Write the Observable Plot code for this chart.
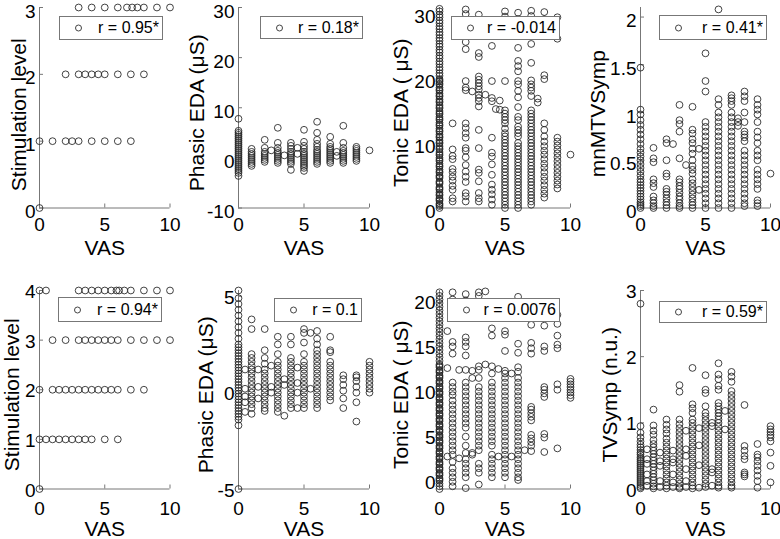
<!DOCTYPE html>
<html><head><meta charset="utf-8">
<script src="https://cdn.jsdelivr.net/npm/d3@7"></script>
<script src="https://cdn.jsdelivr.net/npm/@observablehq/plot@0.6"></script>
<style>
body{margin:0;background:#fff;}
#chart{position:relative;width:780px;height:539px;overflow:hidden;background:#fff;font-family:"Liberation Sans",Arial,sans-serif;}
.panel{position:absolute;}
.panel svg{max-width:none !important;}
.legend{position:absolute;background:#fff;border:1px solid #777;box-sizing:border-box;font-size:16px;color:#000;}
.legend .mk{position:absolute;width:7px;height:7px;border:1px solid #444;border-radius:50%;box-sizing:border-box;top:50%;transform:translateY(-50%);}
.legend .tx{position:absolute;right:3px;top:50%;transform:translateY(-50%);white-space:nowrap;line-height:1;}
</style></head><body><div id="chart"></div>
<script>
// ---------------- DATA ----------------
const vasTicks = [0, 5, 10];

// Panel 1: Stimulation level (top row), VAS values per level
const stimTopLevels = [0, 1, 2, 3];
const stimTopVAS = [
  [0],
  [0, 1, 2, 2.5, 3, 4, 5, 6, 7],
  [2, 3, 3.5, 4, 4.5, 5, 6, 7, 8],
  [3, 4, 5, 6, 6.7, 7.1, 7.5, 8, 9, 10]
];

// Panel 2: Phasic EDA (top row)
const phasicTopVAS = [0, 1, 2, 2.5, 3, 3.5, 4, 4.5, 5, 6, 7, 7.5, 8, 9, 10];
const phasicTopVals = [
  [7.8, 5.4, 5.0, 4.6, 4.2, 3.8, 3.4, 3.0, 2.6, 2.2, 1.8, 1.4, 1.0, 0.6, 0.2, -0.2, -0.6, -1.0, -1.4, -1.8, -2.2, -2.6, -3.0, -3.6],
  [1.8, 1.2, 0.8, 0.4, 0, -0.4, -0.8, -1.2, -1.6],
  [3.6, 2.0, 1.2, 0.8, 0.4, 0, -0.4, -0.8],
  [1.5],
  [6.0, 3.0, 2.0, 1.4, 1.0, 0.6, 0.2, -0.2, -0.6, -1.0],
  [0.5],
  [3.0, 2.4, 1.8, 1.2, 0.8, 0.4, 0, -0.4, -0.8, -1.2, -2.4],
  [2.0, 0.8],
  [5.6, 3.2, 2.4, 1.8, 1.2, 0.8, 0.4, 0, -0.4, -0.8, -1.2, -1.6, -2.0, -2.6],
  [7.2, 5.0, 3.6, 2.8, 2.2, 1.6, 1.2, 0.8, 0.4, 0, -0.4, -0.8, -1.2],
  [4.2, 2.8, 2.2, 1.8, 1.4, 1.0, 0.6, 0.2, -0.2, -0.6, -1.0],
  [1.2, 0.4],
  [6.4, 3.0, 2.0, 1.4, 1.0, 0.6, 0.2, -0.2, -0.6, -1.0],
  [2.2, 1.8, 1.4, 1.0, 0.6, 0.2, -0.2, -0.6],
  [1.5]
];

// Panel 3: Tonic EDA (top row)
const tonicTopVAS = [0, 0, 1, 2, 2.5, 3, 3.5, 4, 4.3, 4.6, 5, 6, 7, 7.5, 8, 9, 10];
const tonicTopVals = [
  [0, 0.3, 0.7, 1.1, 1.5, 1.9, 2.4, 2.8, 3.2, 3.7, 4.1, 4.6, 5.0, 5.4, 5.9, 6.3, 6.8, 7.2, 7.7, 8.1, 8.6, 9.0, 9.5, 9.9, 10.4, 10.8, 11.3, 11.7, 12.2, 12.6, 13.1, 13.5, 14.0, 14.4, 14.9, 15.3, 15.8, 16.2, 16.7, 17.1, 17.6, 18.0, 18.5, 18.9, 19.4, 19.8, 20.3, 20.7, 21.2, 21.6, 22.1, 22.5, 23.0, 23.4, 23.9, 24.3, 24.8, 25.2, 25.7, 26.1, 26.6, 27.0, 27.5, 27.9, 28.4, 28.8, 29.3, 29.7, 30.2, 30.6],
  [0.5, 1.3, 2.1, 3.0, 3.9, 4.8, 5.6, 6.5, 7.4, 8.3, 9.2, 10.1, 11.0, 11.9, 12.8, 13.7, 14.6, 15.5, 16.4, 17.3, 18.2, 19.1, 19.6],
  [13, 9, 8, 7.5, 6, 5.5, 4.8, 4.2, 3.4, 2.8, 1.5, 1.0],
  [30.5, 29.8, 27, 25.5, 24.4, 19.5, 18.5, 18.1, 13, 12.3, 11.5, 10.8, 9.2, 8.8, 7.8, 6.6, 5.6, 4.8, 4.0, 2.3, 1.8, 1.0],
  [17.9],
  [29.7, 23.8, 23.2, 20.2, 19.7, 19.2, 18.7, 18.2, 17.4, 16.9, 16.4, 15.6, 12, 9.2, 5.9, 5.4, 4.1, 2.3, 1.5, 1.0],
  [17.4],
  [24.9, 19.5, 16.9, 16.4, 10.8, 8.5, 7.9, 6.7, 5.1, 3.6, 2.8, 2.1, 1.3, 0.5],
  [15.2],
  [16.5, 15.1],
  [30.2, 29.4, 19.5, 15, 14.5, 14, 13.5, 13, 12.2, 11.5, 11, 10.5, 10, 9.5, 9, 8.5, 8, 7.5, 7, 6.5, 6, 5.5, 5, 4.5, 4, 3.5, 3, 2.5, 2, 1.5, 1, 0.5, 0],
  [30, 29, 24.6, 22.6, 21.8, 21, 19.5, 19, 18, 17, 15.5, 14, 13.5, 12.5, 12, 11.5, 11, 10, 9.5, 9, 8.5, 8, 7.5, 7, 6.5, 6, 5.5, 5, 4.5, 4, 3.5, 3, 2.5, 2, 1.5, 1, 0.5, 0],
  [30.3, 29.5, 26.8, 25.2, 22.3, 19.6, 19, 18.5, 18, 17.2, 15, 14.5, 14, 13.5, 13, 12.5, 12, 11.5, 11, 10.5, 10, 9.5, 9, 8.5, 8, 7.5, 7, 6.5, 6, 5.5, 5, 4.5, 4, 3.5, 3, 2.5, 2, 1.5, 1, 0.5],
  [16.8, 16.2],
  [30.1, 29, 20.4, 19.8, 13, 12, 11, 10.2, 9.5, 8.8, 8.2, 7.5, 6.8, 6.2, 5.5, 4.8, 4.2, 3.5, 2.8, 2.2, 1.6],
  [29.3, 26, 10.8, 10.2, 9.6, 9, 8.4, 7.8, 7.2, 6.6, 6, 5.4, 4.8, 4.2, 3.6, 3.0],
  [8.2]
];

// Panel 4: mnMTVSymp (top row)
const mnmtvVAS = [0, 1, 2, 2.5, 3, 3.5, 4, 4.5, 5, 6, 7, 7.5, 8, 9, 10];
const mnmtvVals = [
  [1.47, 1.03, 0.98, 0.92, 0.87, 0.82, 0.77, 0.72, 0.67, 0.62, 0.58, 0.54, 0.5, 0.46, 0.42, 0.38, 0.34, 0.3, 0.27, 0.24, 0.21, 0.18, 0.15, 0.12, 0.09, 0.06, 0.04, 0.02, 0],
  [0.63, 0.52, 0.48, 0.3, 0.26, 0.22, 0.12, 0.08, 0.05, 0.02, 0],
  [0.72, 0.68, 0.5, 0.36, 0.33, 0.2, 0.17, 0.14, 0.1, 0.06, 0.03, 0],
  [0.67],
  [1.08, 0.92, 0.88, 0.8, 0.52, 0.3, 0.27, 0.23, 0.2, 0.16, 0.12, 0.09, 0.05, 0.02, 0],
  [0.45],
  [1.06, 0.82, 0.78, 0.72, 0.68, 0.62, 0.57, 0.5, 0.44, 0.4, 0.36, 0.3, 0.26, 0.22, 0.18, 0.14, 0.1, 0.06, 0.03, 0],
  [0.62, 0.19],
  [1.62, 1.33, 1.22, 0.9, 0.85, 0.8, 0.75, 0.7, 0.65, 0.6, 0.55, 0.5, 0.45, 0.4, 0.35, 0.3, 0.25, 0.2, 0.15, 0.1, 0.05, 0],
  [2.08, 1.14, 1.08, 1.0, 0.95, 0.9, 0.85, 0.8, 0.75, 0.7, 0.65, 0.6, 0.55, 0.5, 0.45, 0.4, 0.35, 0.3, 0.25, 0.2, 0.15, 0.1, 0.05, 0],
  [1.18, 1.15, 1.12, 1.08, 1.0, 0.95, 0.9, 0.85, 0.8, 0.75, 0.7, 0.65, 0.6, 0.55, 0.5, 0.45, 0.4, 0.35, 0.3, 0.25, 0.2, 0.15, 0.1, 0.05, 0],
  [0.94, 0.9, 0.86],
  [1.22, 1.17, 1.12, 1.0, 0.9, 0.8, 0.77, 0.74, 0.7, 0.6, 0.55, 0.5, 0.45, 0.4, 0.35, 0.3, 0.25, 0.2, 0.15, 0.1, 0.05, 0.02],
  [1.14, 1.08, 1.03, 0.98, 0.9, 0.8, 0.74, 0.68, 0.6, 0.55, 0.5, 0.4, 0.35, 0.3, 0.25, 0.2, 0.08, 0.05, 0.02],
  [0.36]
];

// Panel 5: Stimulation level (bottom row)
const stimBotLevels = [0, 1, 2, 3, 4];
const stimBotVAS = [
  [0],
  [0, 0.5, 1, 1.5, 2, 2.5, 3, 3.5, 4, 5, 6],
  [0, 1, 1.5, 2, 2.5, 3, 3.5, 4, 4.5, 5, 5.5, 6, 7, 8],
  [1, 2, 3, 3.5, 4, 4.5, 5, 5.5, 6, 7, 8, 9, 10],
  [0, 0.5, 3, 3.5, 4, 4.5, 5, 5.5, 5.9, 6.1, 6.5, 7, 8, 9, 10]
];

// Panel 6: Phasic EDA (bottom row)
const phasicBotVAS = [0, 0, 0.5, 1, 1.5, 2, 2.5, 3, 3.5, 4, 4.5, 5, 5.5, 6, 7, 8, 9, 10];
const phasicBotVals = [
  [5.3, 4.9, 4.6, 4.3, 4.0, 3.7, 3.4, 3.1, 2.8, 2.5, 2.2, 1.9, 1.6, 1.3, 1.0, 0.7, 0.4, 0.1, -0.2, -0.5, -0.8, -1.1, -1.4, -1.7, -5.0],
  [2.35, 2.05, 1.75, 1.45, 1.15, 0.85, 0.55, 0.25, -0.05, -0.35, -0.65, -0.95, -1.25],
  [1.2, 0.2, -0.2, -0.5, -1.0],
  [3.8, 3.3, 2.0, 1.8, 1.6, 1.4, 1.2, 1.0, 0.8, 0.6, 0.4, 0.2, 0, -0.2, -0.4, -0.6, -0.8, -1.1],
  [1.2, 0.3, -0.3],
  [3.3, 2.2, 1.8, 1.5, 1.2, 1.0, 0.8, 0.6, 0.4, 0.2, 0, -0.2, -0.4, -0.6, -0.8, -0.95],
  [1.4, 0.3, 0],
  [2.9, 2.5, 2.0, 1.6, 1.4, 1.2, 1.0, 0.8, 0.6, 0.4, 0.2, 0, -0.2, -0.4, -0.6, -0.8, -1.0],
  [0.7, 0.4, -1.2],
  [2.9, 2.5, 1.8, 1.6, 1.4, 1.2, 1.0, 0.8, 0.6, 0.4, 0.2, 0, -0.2, -0.4, -0.6, -0.8],
  [1.3, 0.5, 0, -0.8],
  [3.3, 3.1, 2.6, 2.0, 1.6, 1.4, 1.2, 1.0, 0.8, 0.6, 0.4, 0.2, 0, -0.2, -0.4, -0.6, -0.8],
  [3.1, 0.2],
  [3.2, 2.8, 2.5, 2.2, 2.0, 1.8, 1.6, 1.4, 1.2, 1.0, 0.8, 0.6, 0.4, 0.2, 0, -0.2, -0.4, -0.6, -0.8],
  [2.9, 2.2, 2.1, 1.6, 1.4, 1.2, 1.0, 0.8, 0.6, 0.4, 0.2, 0, -0.2, -0.4],
  [0.9, 0.7, 0.4, 0.1, -0.3, -0.8],
  [0.9, 0.8, 0.6, 0.3, 0, -0.5, -1.5],
  [1.6, 1.4, 1.2, 1.0, 0.8, 0.6, 0.4, 0.2, 0]
];

// Panel 7: Tonic EDA (bottom row)
const tonicBotVAS = [0, 0, 0.6, 1, 1.5, 2, 2.5, 3, 3.5, 4, 4.5, 5, 5.5, 6, 6.5, 7, 8, 9, 10];
const tonicBotVals = [
  [-0.8, -0.5, -0.2, 0.1, 0.4, 0.7, 1.0, 1.3, 1.6, 1.9, 2.2, 2.5, 2.8, 3.1, 3.4, 3.7, 4.0, 4.3, 4.6, 4.9, 5.2, 5.5, 5.8, 6.1, 6.4, 6.7, 7.0, 7.3, 7.6, 7.9, 8.2, 8.5, 8.8, 9.1, 9.4, 9.7, 10.0, 10.3, 10.6, 10.9, 11.2, 11.5, 11.8, 12.1, 12.4, 12.7, 13.0, 13.4, 13.8, 14.2, 14.6, 15.0, 15.4, 15.8, 16.2, 16.6, 17.0, 17.4, 17.8, 18.2, 18.6, 19.0, 19.4, 19.8, 20.2, 20.6, 21.0],
  [0.25, 0.85, 1.45, 2.05, 2.65, 3.25, 3.85, 4.45, 5.05, 5.65, 6.25, 6.85, 7.45, 8.05, 8.65, 9.25, 9.85, 10.45, 11.05, 11.65, 12.25, 12.85],
  [16.7, 12.6, 2.8],
  [21, 20.2, 19, 15.5, 15, 14.2, 11, 10.5, 10, 9.6, 9, 8.5, 8, 7.5, 7, 6.5, 6, 5.5, 5, 4.5, 4, 3.5, 3, 2.2, 1.5, 1.0, 0.5, 0, -0.5],
  [12.4, 2.6],
  [20.8, 20.1, 19.4, 16, 15.5, 15, 14, 12.4, 11, 10.5, 10, 9.5, 9, 8.5, 8, 7.5, 7, 6.5, 6, 5, 4, 3.2, 2.5, 2, 1.5, 1, 0.5, -0.7],
  [12.3, 11.5, 3.2, 3],
  [21, 20.6, 19.8, 12.8, 12.4, 11.5, 10.5, 10, 9.5, 9, 8.5, 8, 7.5, 7, 6.5, 6, 5.5, 5, 4.5, 4, 3.5, 2, 1.5, 1.0, -0.3],
  [21.1, 13],
  [17, 16.2, 12.8, 12, 11, 10.5, 10, 9.5, 9, 8.5, 8, 7.5, 7, 6.5, 6, 5.5, 5, 4.5, 4, 3, 2.5, 2, 1.5, 1, 0.5],
  [12.5, 2.8],
  [16.7, 16.3, 14.5, 12.3, 12, 11.5, 11, 10.5, 10, 9.5, 9, 8.5, 8, 7.5, 7, 6.5, 6, 5.5, 5, 4.5, 4, 3.5, 3, 2.5, 2, 1.5, 1.0, 0.5],
  [12.0, 2.8],
  [20.5, 15.3, 14.3, 12.7, 12.2, 11.5, 11, 10.5, 10, 9.5, 9, 8.5, 8, 7.5, 7, 6.5, 6, 5.5, 5, 4.5, 4, 3.5, 3, 2.5, 2, 1.5, 1, 0.5, 0.2],
  [3.5],
  [17.4, 15.4, 14.8, 14.2, 8.3, 8, 7.6, 7.2, 6.8, 5.2, 4.8, 4.4, 4.0, 3.4],
  [17.3, 15, 14.5, 10.5, 10.2, 9.8, 9.4, 5.3, 4.9, 3.3],
  [18.5, 17.5, 16.2, 15.2, 14.8, 10.8, 10.2, 3.7],
  [11.4, 11.1, 10.8, 10.5, 10.2, 9.9, 9.6, 9.3]
];

// Panel 8: TVSymp (bottom row)
const tvsympVAS = [0, 0.5, 1, 1.5, 2, 2.5, 3, 3.5, 4, 4.5, 5, 5.5, 6, 6.5, 7, 8, 9, 10];
const tvsympVals = [
  [2.8, 0.95, 0.85, 0.78, 0.72, 0.67, 0.63, 0.59, 0.55, 0.52, 0.48, 0.45, 0.42, 0.39, 0.36, 0.33, 0.3, 0.27, 0.24, 0.21, 0.18, 0.15, 0.12, 0.09, 0.06, 0.03, 0.01],
  [0.6, 0.45, 0.38, 0.22, 0.12, 0.05],
  [1.2, 0.96, 0.88, 0.82, 0.74, 0.68, 0.63, 0.58, 0.53, 0.48, 0.43, 0.38, 0.33, 0.28, 0.23, 0.18, 0.13, 0.08, 0.04, 0.01],
  [0.55, 0.42, 0.35, 0.12, 0.03],
  [1.05, 0.97, 0.9, 0.84, 0.76, 0.7, 0.64, 0.58, 0.52, 0.46, 0.4, 0.34, 0.28, 0.22, 0.16, 0.1, 0.05, 0.01],
  [0.58, 0.45, 0.4, 0.22, 0.1, 0.03],
  [1.57, 1.47, 1.05, 0.98, 0.92, 0.86, 0.8, 0.74, 0.68, 0.62, 0.56, 0.5, 0.44, 0.38, 0.32, 0.26, 0.2, 0.14, 0.08, 0.03, 0.01],
  [0.88, 0.6, 0.5, 0.3, 0.12, 0.03],
  [1.83, 1.28, 1.22, 1.15, 1.05, 1.0, 0.94, 0.88, 0.82, 0.76, 0.7, 0.64, 0.58, 0.52, 0.46, 0.4, 0.34, 0.28, 0.22, 0.16, 0.1, 0.05, 0.01],
  [0.92, 0.66, 0.36, 0.02],
  [1.72, 1.5, 1.45, 1.25, 1.15, 1.1, 1.04, 0.98, 0.92, 0.86, 0.8, 0.74, 0.68, 0.62, 0.56, 0.5, 0.44, 0.38, 0.32, 0.26, 0.2, 0.14, 0.08, 0.03],
  [1.0, 0.95, 0.3, 0.25, 0.05],
  [1.9, 1.73, 1.66, 1.56, 1.5, 1.3, 1.25, 1.2, 1.15, 1.1, 1.05, 1.0, 0.94, 0.88, 0.82, 0.76, 0.7, 0.64, 0.58, 0.52, 0.46, 0.4, 0.34, 0.28, 0.22, 0.16, 0.1, 0.05, 0.02],
  [1.18, 0.9],
  [1.77, 1.7, 1.62, 1.48, 1.42, 1.36, 1.3, 1.24, 1.18, 1.12, 1.06, 1.0, 0.94, 0.88, 0.82, 0.76, 0.7, 0.64, 0.58, 0.52, 0.46, 0.4, 0.34, 0.28, 0.22, 0.16, 0.1, 0.05, 0.02],
  [1.27, 0.65, 0.58, 0.5, 0.45, 0.25, 0.22, 0.19],
  [0.68, 0.52, 0.48, 0.42, 0.35, 0.28, 0.2, 0.12, 0.02],
  [0.95, 0.9, 0.86, 0.82, 0.78, 0.72, 0.55, 0.35, 0.1]
];

// Correlation labels, axis titles, ticks, limits
const rLabels = ["r = 0.95*", "r = 0.18*", "r = -0.014", "r = 0.41*", "r = 0.94*", "r = 0.1", "r = 0.0076", "r = 0.59*"];
const yLabels = ["Stimulation level", "Phasic EDA (μS)", "Tonic EDA ( μS)", "mnMTVSymp", "Stimulation level", "Phasic EDA (μS)", "Tonic EDA ( μS)", "TVSymp (n.u.)"];
const yTickSets = [[0, 1, 2, 3], [-10, 0, 10, 20, 30], [0, 10, 20, 30], [0, 0.5, 1, 1.5, 2], [0, 1, 2, 3, 4], [-5, 0, 5], [0, 5, 10, 15, 20], [0, 1, 2, 3]];
const yDomains = [[0, 3], [-10, 30], [0, 30.8], [0, 2.1], [0, 4], [-5, 5.3], [-0.8, 21.2], [0, 3]];

// ---------------- BUILD ----------------
const byLevel = (levels, vas) => levels.flatMap((lv, i) => vas[i].map(v => ({x: v, y: lv})));
const byVAS = (vas, vals) => vas.flatMap((v, i) => vals[i].map(y => ({x: v, y})));

const pointSets = [
  byLevel(stimTopLevels, stimTopVAS),
  byVAS(phasicTopVAS, phasicTopVals),
  byVAS(tonicTopVAS, tonicTopVals),
  byVAS(mnmtvVAS, mnmtvVals),
  byLevel(stimBotLevels, stimBotVAS),
  byVAS(phasicBotVAS, phasicBotVals),
  byVAS(tonicBotVAS, tonicBotVals),
  byVAS(tvsympVAS, tvsympVals)
];

// layout (pixels)
const frameX = [[38.5, 169], [238, 369], [439, 570], [640, 770]];
const frameY = [[7, 207.5], [289.5, 488]];
const tickPads = [9.5, 12];
const yTickDy = [4, 1.5];
const labelOffsets = [28.5, 49, 46, 50, 35.5, 40, 46, 38];
const labelShifts = [7, 5, 5, 6, 5, 5, 5, 5];
const legendBoxes = [
  [59, 16, 104, 24], [260, 16, 103, 23], [451, 16, 109, 24], [659, 15, 108, 25],
  [58, 297, 104, 25], [274, 298, 88, 24], [447, 298, 113, 24], [659, 301, 108, 22]
];

const axisColor = "#777";
const M = {top: 20, right: 20, bottom: 60, left: 60};
const chart = document.getElementById("chart");

for (let i = 0; i < 8; i++) {
  const row = Math.floor(i / 4);
  const [x0, x10] = frameX[i % 4];
  const [top, bottom] = frameY[row];
  const fw = x10 - x0, fh = bottom - top;
  const yDom = yDomains[i];
  const W = M.left + fw + M.right, H = M.top + fh + M.bottom;
  const svg = Plot.plot({
    width: W,
    height: H,
    marginTop: M.top, marginRight: M.right, marginBottom: M.bottom, marginLeft: M.left,
    style: {background: "transparent", overflow: "visible", maxWidth: "none", fontFamily: '"Liberation Sans", Arial, sans-serif', color: "#000"},
    x: {domain: [0, 10], label: null},
    y: {domain: yDom, label: null},
    marks: [
      Plot.ruleX([0], {stroke: axisColor}),
      Plot.ruleY([yDom[0]], {stroke: axisColor}),
      Plot.ruleX(vasTicks, {x: d => d, stroke: axisColor, insetTop: fh - 4}),
      Plot.ruleY(yTickSets[i], {y: d => d, stroke: axisColor, insetRight: fw - 4}),
      Plot.dot(pointSets[i], {x: "x", y: "y", r: 3.4, stroke: "#222", strokeOpacity: 0.85, strokeWidth: 1, fill: "none"}),
      Plot.axisX({ticks: vasTicks, tickSize: 0, tickPadding: tickPads[row], fontSize: 19, label: null, tickFormat: d => String(d)}),
      Plot.axisY({ticks: yTickSets[i], tickSize: 0, tickPadding: 4, dy: yTickDy[row], fontSize: 19, label: null, tickFormat: d => String(d)}),
      Plot.text([yLabels[i]], {text: d => d, frameAnchor: "left", rotate: -90, lineAnchor: "top", textAnchor: "middle", dx: -labelOffsets[i], dy: labelShifts[i], fontSize: 21}),
      Plot.text(["VAS"], {text: d => d, frameAnchor: "bottom", lineAnchor: "middle", dy: 40, fontSize: 21})
    ]
  });
  const wrap = document.createElement("div");
  wrap.className = "panel";
  wrap.style.left = (x0 - M.left) + "px";
  wrap.style.top = (top - M.top) + "px";
  wrap.style.width = W + "px";
  wrap.style.height = H + "px";
  wrap.appendChild(svg);
  chart.appendChild(wrap);

  const [lx, ly, lw, lh] = legendBoxes[i];
  const lg = document.createElement("div");
  lg.className = "legend";
  lg.style.left = lx + "px"; lg.style.top = ly + "px";
  lg.style.width = lw + "px"; lg.style.height = lh + "px";
  const mk = document.createElement("span");
  mk.className = "mk"; mk.style.left = "15px";
  const tx = document.createElement("span");
  tx.className = "tx"; tx.textContent = rLabels[i];
  lg.appendChild(mk); lg.appendChild(tx);
  chart.appendChild(lg);
}
</script></body></html>
